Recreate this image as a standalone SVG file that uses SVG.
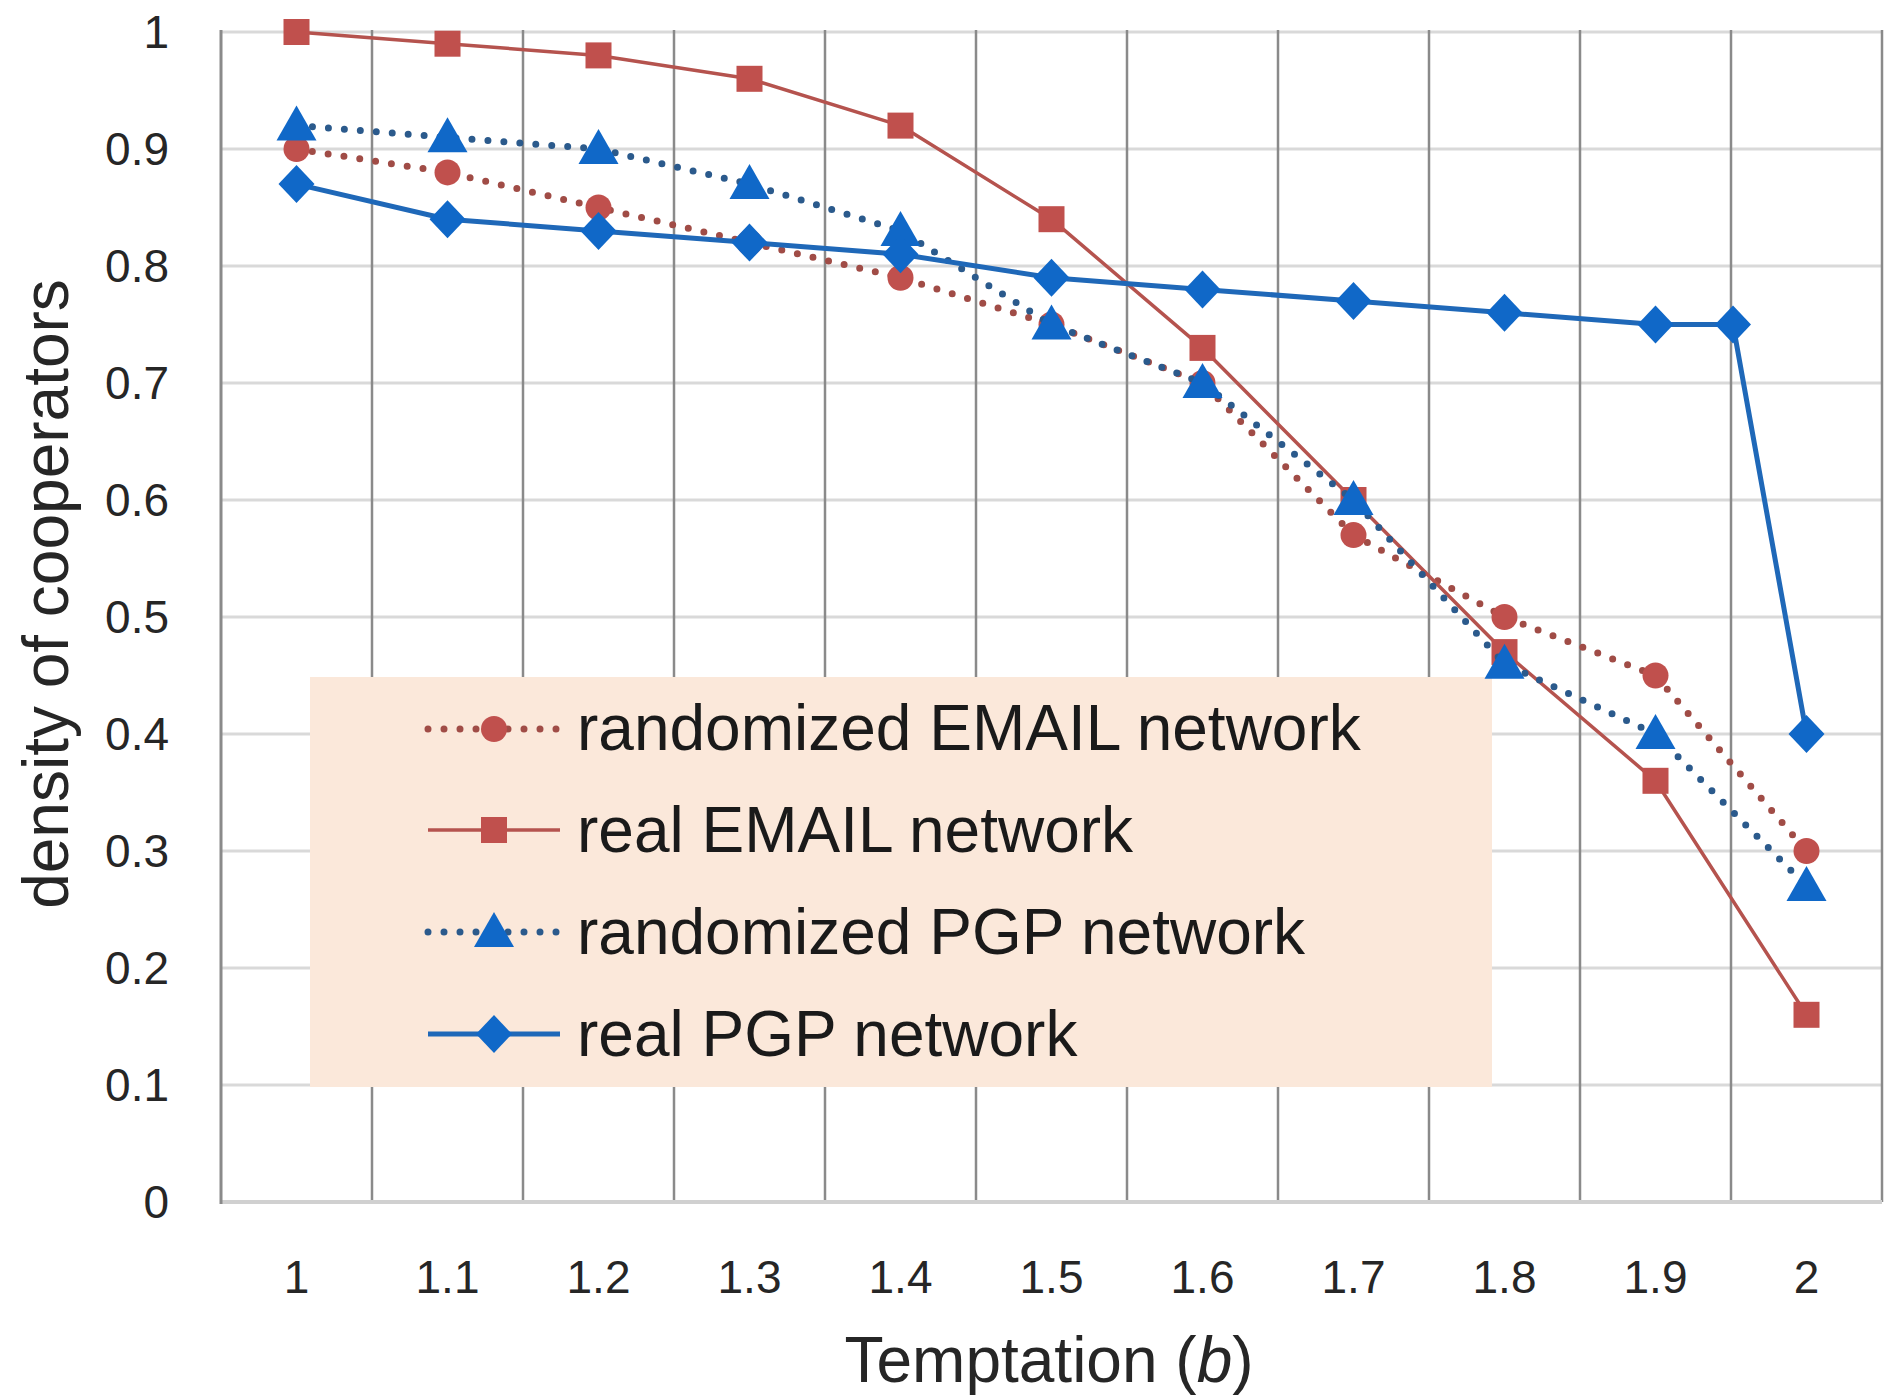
<svg xmlns="http://www.w3.org/2000/svg" xmlns:xlink="http://www.w3.org/1999/xlink" width="1887" height="1397" viewBox="0 0 1887 1397">
<style>
.hg{stroke:#d9d9d9;stroke-width:3;fill:none}
.vg{stroke:#8a8a8a;stroke-width:2.5;fill:none}
.tick{font-family:"Liberation Sans",Arial,sans-serif;font-size:46px;fill:#262626}
.title{font-family:"Liberation Sans",Arial,sans-serif;font-size:64px;fill:#262626}
.leg{font-family:"Liberation Sans",Arial,sans-serif;font-size:64px;fill:#1a1a1a}
.redDot{stroke:#a04c46;stroke-width:7;stroke-linecap:round;stroke-dasharray:0 16;fill:none}
.redLine{stroke:#b5534e;stroke-width:3.5;fill:none;stroke-linejoin:round}
.blueDot{stroke:#2b5a8c;stroke-width:7;stroke-linecap:round;stroke-dasharray:0 16;fill:none}
.blueLine{stroke:#1f68b8;stroke-width:5;fill:none;stroke-linejoin:round}
.rm{fill:#c0504d}
.bm{fill:#1068c8}
</style>
<defs>
<circle id="mc" cx="0" cy="0" r="13" class="rm"/>
<rect id="ms" x="-13" y="-13" width="26" height="26" class="rm"/>
<polygon id="mt" points="0,-20 20,15 -20,15" class="bm"/>
<polygon id="md" points="0,-19 18,0 0,19 -18,0" class="bm"/>
</defs>
<rect x="0" y="0" width="1887" height="1397" fill="#ffffff"/>

<g id="gridlines">
<path class="hg" d="M221 32H1882M221 149H1882M221 266H1882M221 383H1882M221 500H1882M221 617H1882M221 734H1882M221 851H1882M221 968H1882M221 1085H1882"/>
<path class="vg" d="M372 30V1202M523 30V1202M674 30V1202M825 30V1202M976 30V1202M1127 30V1202M1278 30V1202M1429 30V1202M1580 30V1202M1731 30V1202M1882 30V1202"/>
<path d="M221 1202H1882" stroke="#d0d0d0" stroke-width="4" fill="none"/>
<path d="M221 30V1204" stroke="#8a8a8a" stroke-width="3" fill="none"/>
</g>

<g id="y-ticks" class="tick" text-anchor="end">
<text x="169" y="48">1</text>
<text x="169" y="165">0.9</text>
<text x="169" y="282">0.8</text>
<text x="169" y="399">0.7</text>
<text x="169" y="516">0.6</text>
<text x="169" y="633">0.5</text>
<text x="169" y="750">0.4</text>
<text x="169" y="867">0.3</text>
<text x="169" y="984">0.2</text>
<text x="169" y="1101">0.1</text>
<text x="169" y="1218">0</text>
</g>

<g id="x-ticks" class="tick" text-anchor="middle">
<text x="296.5" y="1293">1</text>
<text x="447.5" y="1293">1.1</text>
<text x="598.5" y="1293">1.2</text>
<text x="749.5" y="1293">1.3</text>
<text x="900.5" y="1293">1.4</text>
<text x="1051.5" y="1293">1.5</text>
<text x="1202.5" y="1293">1.6</text>
<text x="1353.5" y="1293">1.7</text>
<text x="1504.5" y="1293">1.8</text>
<text x="1655.5" y="1293">1.9</text>
<text x="1806.5" y="1293">2</text>
</g>

<g id="axis-titles">
<text class="title" x="1049" y="1382" text-anchor="middle">Temptation (<tspan font-style="italic">b</tspan>)</text>
<text class="title" transform="translate(68,594) rotate(-90)" text-anchor="middle">density of cooperators</text>
</g>

<g id="legend">
<rect x="310" y="677" width="1182" height="410" fill="#fbe8da"/>
<path class="redDot" d="M428 729H560"/>
<use xlink:href="#mc" x="494" y="729"/>
<text class="leg" x="577" y="750">randomized EMAIL network</text>
<path class="redLine" d="M428 830H560"/>
<use xlink:href="#ms" x="494" y="830"/>
<text class="leg" x="577" y="852">real EMAIL network</text>
<path class="blueDot" d="M428 932H560"/>
<use xlink:href="#mt" x="494" y="932"/>
<text class="leg" x="577" y="954">randomized PGP network</text>
<path class="blueLine" d="M428 1034H560"/>
<use xlink:href="#md" x="494" y="1034"/>
<text class="leg" x="577" y="1056">real PGP network</text>
</g>

<g id="series-randomized-email">
<polyline class="redDot" points="296.5,149 447.5,172.4 598.5,207.5 749.5,242.6 900.5,277.7 1051.5,324.5 1202.5,383 1353.5,535.1 1504.5,617 1655.5,675.5 1806.5,851"/>
<use xlink:href="#mc" x="296.5" y="149"/>
<use xlink:href="#mc" x="447.5" y="172.4"/>
<use xlink:href="#mc" x="598.5" y="207.5"/>
<use xlink:href="#mc" x="749.5" y="242.6"/>
<use xlink:href="#mc" x="900.5" y="277.7"/>
<use xlink:href="#mc" x="1051.5" y="324.5"/>
<use xlink:href="#mc" x="1202.5" y="383"/>
<use xlink:href="#mc" x="1353.5" y="535.1"/>
<use xlink:href="#mc" x="1504.5" y="617"/>
<use xlink:href="#mc" x="1655.5" y="675.5"/>
<use xlink:href="#mc" x="1806.5" y="851"/>
</g>

<g id="series-real-email">
<polyline class="redLine" points="296.5,32 447.5,43.7 598.5,55.4 749.5,78.8 900.5,125.6 1051.5,219.2 1202.5,347.9 1353.5,500 1504.5,652.1 1655.5,780.8 1806.5,1014.8"/>
<use xlink:href="#ms" x="296.5" y="32"/>
<use xlink:href="#ms" x="447.5" y="43.7"/>
<use xlink:href="#ms" x="598.5" y="55.4"/>
<use xlink:href="#ms" x="749.5" y="78.8"/>
<use xlink:href="#ms" x="900.5" y="125.6"/>
<use xlink:href="#ms" x="1051.5" y="219.2"/>
<use xlink:href="#ms" x="1202.5" y="347.9"/>
<use xlink:href="#ms" x="1353.5" y="500"/>
<use xlink:href="#ms" x="1504.5" y="652.1"/>
<use xlink:href="#ms" x="1655.5" y="780.8"/>
<use xlink:href="#ms" x="1806.5" y="1014.8"/>
</g>

<g id="series-randomized-pgp">
<polyline class="blueDot" points="296.5,125.6 447.5,137.3 598.5,149 749.5,184.1 900.5,230.9 1051.5,324.5 1202.5,383 1353.5,500 1504.5,663.8 1655.5,734 1806.5,886.1"/>
<use xlink:href="#mt" x="296.5" y="125.6"/>
<use xlink:href="#mt" x="447.5" y="137.3"/>
<use xlink:href="#mt" x="598.5" y="149"/>
<use xlink:href="#mt" x="749.5" y="184.1"/>
<use xlink:href="#mt" x="900.5" y="230.9"/>
<use xlink:href="#mt" x="1051.5" y="324.5"/>
<use xlink:href="#mt" x="1202.5" y="383"/>
<use xlink:href="#mt" x="1353.5" y="500"/>
<use xlink:href="#mt" x="1504.5" y="663.8"/>
<use xlink:href="#mt" x="1655.5" y="734"/>
<use xlink:href="#mt" x="1806.5" y="886.1"/>
</g>

<g id="series-real-pgp">
<polyline class="blueLine" points="296.5,184.1 447.5,219.2 598.5,230.9 749.5,242.6 900.5,254.3 1051.5,277.7 1202.5,289.4 1353.5,301.1 1504.5,312.8 1655.5,324.5 1733,324.5 1806.5,734"/>
<use xlink:href="#md" x="296.5" y="184.1"/>
<use xlink:href="#md" x="447.5" y="219.2"/>
<use xlink:href="#md" x="598.5" y="230.9"/>
<use xlink:href="#md" x="749.5" y="242.6"/>
<use xlink:href="#md" x="900.5" y="254.3"/>
<use xlink:href="#md" x="1051.5" y="277.7"/>
<use xlink:href="#md" x="1202.5" y="289.4"/>
<use xlink:href="#md" x="1353.5" y="301.1"/>
<use xlink:href="#md" x="1504.5" y="312.8"/>
<use xlink:href="#md" x="1655.5" y="324.5"/>
<use xlink:href="#md" x="1733" y="324.5"/>
<use xlink:href="#md" x="1806.5" y="734"/>
</g>
</svg>
